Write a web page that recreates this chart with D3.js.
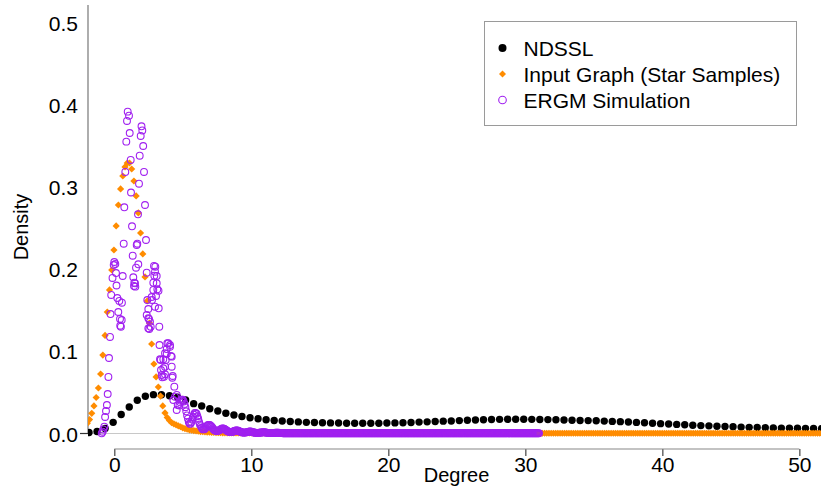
<!DOCTYPE html>
<html>
<head>
<meta charset="utf-8">
<script src="https://cdn.jsdelivr.net/npm/d3@7"></script>
<style>
  html, body { margin: 0; padding: 0; background: #fff; }
  svg { display: block; font-family: "Liberation Sans", Arial, sans-serif; }
</style>
</head>
<body>
<script>
// ---------------- DATA ----------------
// NDSSL density, evaluated on a regular degree grid
const ndsslStart = -1.847, ndsslStep = 0.5876;
const ndsslDensity = [
0.0012,0.0024,0.0061,0.0136,0.0231,0.0323,0.0404,0.0453,0.0473,0.0472,
0.0460,0.0441,0.0408,0.0363,0.0335,0.0302,0.0274,0.0246,0.0225,0.0207,
0.0192,0.0179,0.0167,0.0158,0.0153,0.0146,0.0141,0.0136,0.0134,0.0131,
0.0129,0.0128,0.0125,0.0124,0.0124,0.0124,0.0125,0.0127,0.0129,0.0131,
0.0134,0.0139,0.0142,0.0146,0.0150,0.0153,0.0157,0.0161,0.0164,0.0168,
0.0170,0.0172,0.0173,0.0173,0.0173,0.0172,0.0170,0.0169,0.0167,0.0164,
0.0162,0.0159,0.0157,0.0155,0.0151,0.0147,0.0144,0.0140,0.0135,0.0130,
0.0125,0.0120,0.0116,0.0111,0.0106,0.0101,0.0096,0.0093,0.0089,0.0085,
0.0082,0.0078,0.0075,0.0073,0.0071,0.0068,0.0066,0.0065,0.0063,0.0061,
0.0060,0.0058];

// Input Graph (Star Samples) density, regular degree grid
const inputStart = -1.971, inputStep = 0.162;
const inputDensity = [
0.0124,0.0170,0.0246,0.0335,0.0438,0.0554,0.0724,0.0955,0.1193,0.1479,
0.1747,0.1990,0.2233,0.2526,0.2781,0.2976,0.3134,0.3244,0.3292,0.3292,
0.3219,0.3073,0.2891,0.2684,0.2440,0.2185,0.1905,0.1613,0.1345,0.1089,
0.0846,0.0688,0.0566,0.0456,0.0335,0.0250,0.0195,0.0158,0.0131,0.0118,
0.0106,0.0094,0.0082,0.0069,0.0060,0.0052,0.0045,0.0040,0.0035,0.0032,
0.0028,0.0024,0.0022,0.0020,0.0017,0.0015,0.0013,0.0012,0.0011,0.0010,
0.0009,0.0008,0.0008,0.0008,0.0008,0.0008,0.0007,0.0007,0.0007,0.0007,
0.0007,0.0006,0.0006,0.0006,0.0006,0.0006,0.0006,0.0006,0.0006,0.0006,
0.0006,0.0005,0.0005,0.0005,0.0005,0.0005,0.0005,0.0005,0.0005,0.0005,
0.0005,0.0003,0.0003,0.0003,0.0003,0.0003,0.0003,0.0003,0.0003,0.0003,
0.0003,0.0003,0.0003,0.0003,0.0003,0.0003,0.0003,0.0003,0.0003,0.0003,
0.0003,0.0003,0.0003,0.0003,0.0003,0.0003,0.0003,0.0003,0.0003,0.0003,
0.0003,0.0003,0.0003,0.0003,0.0003,0.0003,0.0003,0.0003,0.0003,0.0003,
0.0003,0.0003,0.0003,0.0003,0.0003,0.0003,0.0003,0.0003,0.0003,0.0003,
0.0003,0.0003,0.0003,0.0003,0.0003,0.0003,0.0003,0.0003,0.0003,0.0003,
0.0003,0.0003,0.0003,0.0003,0.0003,0.0003,0.0003,0.0003,0.0003,0.0003,
0.0003,0.0003,0.0003,0.0003,0.0003,0.0003,0.0003,0.0003,0.0003,0.0003,
0.0003,0.0003,0.0003,0.0003,0.0003,0.0003,0.0003,0.0003,0.0003,0.0003,
0.0003,0.0003,0.0003,0.0003,0.0003,0.0003,0.0003,0.0003,0.0003,0.0003,
0.0003,0.0003,0.0003,0.0003,0.0003,0.0003,0.0003,0.0003,0.0003,0.0003,
0.0003,0.0003,0.0003,0.0003,0.0003,0.0003,0.0003,0.0003,0.0003,0.0003,
0.0003,0.0003,0.0003,0.0003,0.0003,0.0003,0.0003,0.0003,0.0003,0.0003,
0.0003,0.0003,0.0003,0.0003,0.0003,0.0003,0.0003,0.0003,0.0003,0.0003,
0.0003,0.0003,0.0003,0.0003,0.0003,0.0003,0.0003,0.0003,0.0003,0.0003,
0.0003,0.0003,0.0003,0.0003,0.0003,0.0003,0.0003,0.0003,0.0003,0.0003,
0.0003,0.0003,0.0003,0.0003,0.0003,0.0003,0.0003,0.0003,0.0003,0.0003,
0.0003,0.0003,0.0003,0.0003,0.0003,0.0003,0.0003,0.0003,0.0003,0.0003,
0.0003,0.0003,0.0003,0.0003,0.0003,0.0003,0.0003,0.0003,0.0003,0.0003,
0.0003,0.0003,0.0003,0.0003,0.0003,0.0003,0.0003,0.0003,0.0003,0.0003,
0.0003,0.0003,0.0003,0.0003,0.0003,0.0003,0.0003,0.0003,0.0003,0.0003,
0.0003,0.0003,0.0003,0.0003,0.0003,0.0003,0.0003,0.0003,0.0003,0.0003,
0.0003,0.0003,0.0003,0.0003,0.0003,0.0003,0.0003,0.0003,0.0003,0.0003,
0.0003,0.0003,0.0003,0.0003,0.0003,0.0003,0.0003,0.0003,0.0003,0.0003,
0.0003];

// ERGM Simulation: scattered points of the peak region (degree, density)
const ergmPeakDegree = [
-0.920,-0.854,-0.796,-0.730,-0.672,-0.606,-0.540,-0.482,-0.431,-0.387,
-0.314,-0.277,-0.226,-0.131,-0.044,0.000,0.073,0.124,0.161,0.219,
0.292,0.365,0.416,0.431,0.482,0.540,0.555,0.613,0.686,0.730,
0.803,0.876,0.927,0.978,1.073,1.124,1.197,1.219,1.292,1.343,
1.387,1.438,1.460,1.511,1.533,1.584,1.635,1.679,1.730,1.752,
1.803,1.854,1.927,1.985,2.044,2.109,2.168,2.241,2.314,2.365,
2.409,2.365,2.482,2.482,2.482,2.533,2.555,2.606,2.657,2.730,
2.752,2.847,2.847,2.898,2.920,2.971,2.993,2.971,3.095,3.095,
3.044,3.139,3.226,3.241,3.285,3.299,3.336,3.387,3.409,3.460,
3.504,3.577,3.577,3.628,3.701,3.701,3.701,3.752,3.825,3.825,
3.869,3.942,4.066,4.066,4.139,4.190,4.190,4.234,4.263,4.307,
4.380,4.431,4.555,4.555,4.628];
const ergmPeakDensity = [
0.0002,0.0022,0.0049,0.0083,0.0201,0.0274,0.0347,0.0481,0.0688,0.0919,
0.1175,0.1454,0.1686,0.1893,0.2051,0.2087,0.2063,0.1953,0.1801,0.1649,
0.1479,0.1613,0.1394,0.1312,0.1300,0.1381,0.1592,0.1917,0.2310,0.2753,
0.3183,0.3552,0.3804,0.3917,0.3868,0.3657,0.3329,0.2933,0.2522,0.2164,
0.1901,0.1795,0.1835,0.1828,0.1787,0.2018,0.2294,0.2310,0.2668,0.2059,
0.3040,0.3381,0.3621,0.3739,0.3688,0.3499,0.3183,0.2781,0.2355,0.1957,
0.1625,0.1442,0.1515,0.1402,0.1280,0.1394,0.1272,0.1361,0.1300,0.1661,
0.1625,0.1835,0.1747,0.2039,0.1921,0.1969,0.2030,0.1543,0.1917,0.1828,
0.1674,0.1755,0.1738,0.1524,0.1300,0.1077,0.0903,0.0895,0.0773,0.0712,
0.0684,0.0903,0.0794,0.0691,0.0976,0.0813,0.0721,0.0895,0.1028,0.0968,
0.1098,0.1098,0.1077,0.1056,0.0943,0.0935,0.0813,0.0679,0.0700,0.0408,
0.0570,0.0448,0.0469,0.0286,0.0347];

// ERGM Simulation: tail on a regular degree grid (4.75 .. 31.0)
const ergmTailStart = 4.75, ergmTailStep = 0.0625;
const ergmTailDensity = [
0.034,0.038,0.040,0.041,0.041,0.039,0.036,0.032,0.027,0.022,
0.018,0.014,0.012,0.012,0.014,0.017,0.020,0.023,0.025,0.025,
0.024,0.021,0.018,0.014,0.011,0.009,0.007,0.0055,0.005,0.0053,
0.006,0.0075,0.009,0.010,0.0105,0.0104,0.010,0.009,0.008,0.0065,
0.005,0.004,0.0035,0.0031,0.003,0.0032,0.0035,0.0043,0.005,0.0056,
0.006,0.006,0.0058,0.0052,0.0045,0.0037,0.003,0.0024,0.002,0.0018,
0.0018,0.0019,0.002,0.0025,0.003,0.0035,0.0038,0.0038,0.0036,0.0032,
0.0028,0.0023,0.0018,0.0014,0.0012,0.0011,0.0011,0.0012,0.0014,0.0017,
0.002,0.0022,0.0024,0.0024,0.0022,0.0019,0.0016,0.0013,0.001,0.0009,
0.0008,0.0008,0.0008,0.0009,0.001,0.0012,0.0013,0.0014,0.0015,0.0015,
0.0014,0.0012,0.001,0.0008,0.0007,0.0006,0.0005,0.0005,0.0005,0.0006,
0.0007,0.0008,0.0009,0.001,0.001,0.001,0.0009,0.0008,0.0007,0.0006,
0.0005,
0.0003,0.0003,0.0003,0.0003,0.0003,0.0003,0.0003,0.0003,0.0003,0.0003,
0.0003,0.0003,0.0003,0.0003,0.0003,0.0003,0.0003,0.0003,0.0003,0.0003,
0.0003,0.0003,0.0003,0.0003,0.0003,0.0003,0.0003,0.0003,0.0003,0.0003,
0.0003,0.0003,0.0003,0.0003,0.0003,0.0003,0.0003,0.0003,0.0003,0.0003,
0.0003,0.0003,0.0003,0.0003,0.0003,0.0003,0.0003,0.0003,0.0003,0.0003,
0.0003,0.0003,0.0003,0.0003,0.0003,0.0003,0.0003,0.0003,0.0003,0.0003,
0.0003,0.0003,0.0003,0.0003,0.0003,0.0003,0.0003,0.0003,0.0003,0.0003,
0.0003,0.0003,0.0003,0.0003,0.0003,0.0003,0.0003,0.0003,0.0003,0.0003,
0.0003,0.0003,0.0003,0.0003,0.0003,0.0003,0.0003,0.0003,0.0003,0.0003,
0.0003,0.0003,0.0003,0.0003,0.0003,0.0003,0.0003,0.0003,0.0003,0.0003,
0.0003,0.0003,0.0003,0.0003,0.0003,0.0003,0.0003,0.0003,0.0003,0.0003,
0.0003,0.0003,0.0003,0.0003,0.0003,0.0003,0.0003,0.0003,0.0003,0.0003,
0.0003,0.0003,0.0003,0.0003,0.0003,0.0003,0.0003,0.0003,0.0003,0.0003,
0.0003,0.0003,0.0003,0.0003,0.0003,0.0003,0.0003,0.0003,0.0003,0.0003,
0.0003,0.0003,0.0003,0.0003,0.0003,0.0003,0.0003,0.0003,0.0003,0.0003,
0.0003,0.0003,0.0003,0.0003,0.0003,0.0003,0.0003,0.0003,0.0003,0.0003,
0.0003,0.0003,0.0003,0.0003,0.0003,0.0003,0.0003,0.0003,0.0003,0.0003,
0.0003,0.0003,0.0003,0.0003,0.0003,0.0003,0.0003,0.0003,0.0003,0.0003,
0.0003,0.0003,0.0003,0.0003,0.0003,0.0003,0.0003,0.0003,0.0003,0.0003,
0.0003,0.0003,0.0003,0.0003,0.0003,0.0003,0.0003,0.0003,0.0003,0.0003,
0.0003,0.0003,0.0003,0.0003,0.0003,0.0003,0.0003,0.0003,0.0003,0.0003,
0.0003,0.0003,0.0003,0.0003,0.0003,0.0003,0.0003,0.0003,0.0003,0.0003,
0.0003,0.0003,0.0003,0.0003,0.0003,0.0003,0.0003,0.0003,0.0003,0.0003,
0.0003,0.0003,0.0003,0.0003,0.0003,0.0003,0.0003,0.0003,0.0003,0.0003,
0.0003,0.0003,0.0003,0.0003,0.0003,0.0003,0.0003,0.0003,0.0003,0.0003,
0.0003,0.0003,0.0003,0.0003,0.0003,0.0003,0.0003,0.0003,0.0003,0.0003,
0.0003,0.0003,0.0003,0.0003,0.0003,0.0003,0.0003,0.0003,0.0003,0.0003,
0.0003,0.0003,0.0003,0.0003,0.0003,0.0003,0.0003,0.0003,0.0003,0.0003,
0.0003,0.0003,0.0003,0.0003,0.0003,0.0003,0.0003,0.0003,0.0003,0.0003,
0.0003,0.0003,0.0003,0.0003,0.0003,0.0003,0.0003,0.0003,0.0003,0.0003];

const xTicks = [0, 10, 20, 30, 40, 50];
const yTicks = [0, 0.1, 0.2, 0.3, 0.4, 0.5];
const seriesNames = ["NDSSL", "Input Graph (Star Samples)", "ERGM Simulation"];
const xTitle = "Degree", yTitle = "Density";

// ---------------- CHART ----------------
const W = 821, H = 491;
const COL_BLACK = "#000000", COL_ORANGE = "#FF8C00", COL_PURPLE = "#A020F0";

const x = d3.scaleLinear().domain([-1.92, 51.58]).range([88, 821]);
const y = d3.scaleLinear().domain([0, 0.5215]).range([433.5, 5]);

const ndssl = ndsslDensity.map((v, i) => ({ d: ndsslStart + i * ndsslStep, v }));
const input = inputDensity.map((v, i) => ({ d: inputStart + i * inputStep, v }));
const ergm = ergmPeakDegree.map((d, i) => ({ d, v: ergmPeakDensity[i] }))
  .concat(ergmTailDensity.map((v, i) => ({ d: ergmTailStart + i * ergmTailStep, v })));

const svg = d3.select("body").append("svg").attr("width", W).attr("height", H);
svg.append("rect").attr("width", W).attr("height", H).attr("fill", "#fff");

svg.append("clipPath").attr("id", "plotclip")
  .append("rect").attr("x", 88).attr("y", 0).attr("width", W - 88).attr("height", 449);

// zero reference line
svg.append("line")
  .attr("x1", 88).attr("x2", W).attr("y1", y(0)).attr("y2", y(0))
  .attr("stroke", "#c8c8c8").attr("stroke-width", 1);

// Y axis
const yAxis = svg.append("g").attr("transform", "translate(88,0)")
  .call(d3.axisLeft(y).tickValues(yTicks).tickFormat(d3.format(".1f")).tickSize(0).tickPadding(10));
yAxis.select(".domain").remove();
yAxis.selectAll("text").attr("font-size", 21).attr("fill", "#000").attr("dy", "0.36em")
  .attr("font-family", "'Liberation Sans', Arial, sans-serif");
svg.append("line").attr("x1", 88).attr("x2", 88).attr("y1", y(0)).attr("y2", 5)
  .attr("stroke", "#777").attr("stroke-width", 1.2);
svg.append("line").attr("x1", 80).attr("x2", 88).attr("y1", y(0)).attr("y2", y(0))
  .attr("stroke", "#333").attr("stroke-width", 1.2);

// X axis
const xAxis = svg.append("g").attr("transform", "translate(0,449)")
  .call(d3.axisBottom(x).tickValues(xTicks).tickFormat(d3.format("d")).tickSize(7).tickPadding(1));
xAxis.select(".domain").remove();
xAxis.selectAll(".tick line").attr("stroke", "#444").attr("stroke-width", 1.2);
xAxis.selectAll("text").attr("font-size", 21).attr("fill", "#000")
  .attr("font-family", "'Liberation Sans', Arial, sans-serif");
svg.append("line").attr("x1", x(xTicks[0])).attr("x2", x(xTicks[xTicks.length - 1]))
  .attr("y1", 449).attr("y2", 449).attr("stroke", "#888").attr("stroke-width", 1.2);

// axis titles
svg.append("text").attr("x", 456.5).attr("y", 481.5).attr("text-anchor", "middle")
  .attr("font-size", 20).attr("fill", "#000").text(xTitle);
svg.append("text").attr("transform", "translate(28,227) rotate(-90)").attr("text-anchor", "middle")
  .attr("font-size", 20).attr("fill", "#000").text(yTitle);

// points
const plot = svg.append("g").attr("clip-path", "url(#plotclip)");
const diamond = (s) => `M0,${-s}L${s},0L0,${s}L${-s},0Z`;

plot.append("g").selectAll("circle").data(ndssl).join("circle")
  .attr("cx", d => x(d.d)).attr("cy", d => y(d.v)).attr("r", 3.7).attr("fill", COL_BLACK);

plot.append("g").selectAll("path").data(input).join("path")
  .attr("transform", d => `translate(${x(d.d)},${y(d.v)})`)
  .attr("d", diamond(3.6)).attr("fill", COL_ORANGE);

plot.append("g").selectAll("circle").data(ergm).join("circle")
  .attr("cx", d => x(d.d)).attr("cy", d => y(d.v)).attr("r", 3.4)
  .attr("fill", "none").attr("stroke", COL_PURPLE).attr("stroke-width", 1.1);

// legend
const lg = svg.append("g");
lg.append("rect").attr("x", 484.5).attr("y", 21.5).attr("width", 312).attr("height", 104)
  .attr("fill", "#fff").attr("stroke", "#9a9a9a").attr("stroke-width", 1);
const rows = [48, 74, 100];
lg.append("circle").attr("cx", 502.5).attr("cy", rows[0]).attr("r", 4).attr("fill", COL_BLACK);
lg.append("path").attr("transform", `translate(502.5,${rows[1]})`).attr("d", diamond(3.5)).attr("fill", COL_ORANGE);
lg.append("circle").attr("cx", 502.5).attr("cy", rows[2]).attr("r", 3.8)
  .attr("fill", "none").attr("stroke", COL_PURPLE).attr("stroke-width", 1.1);
lg.selectAll("text.leg").data(seriesNames).join("text").attr("class", "leg")
  .attr("x", 523.5).attr("y", (d, i) => rows[i] + 7.5)
  .attr("font-size", 21).attr("fill", "#000").text(d => d);
</script>
</body>
</html>
